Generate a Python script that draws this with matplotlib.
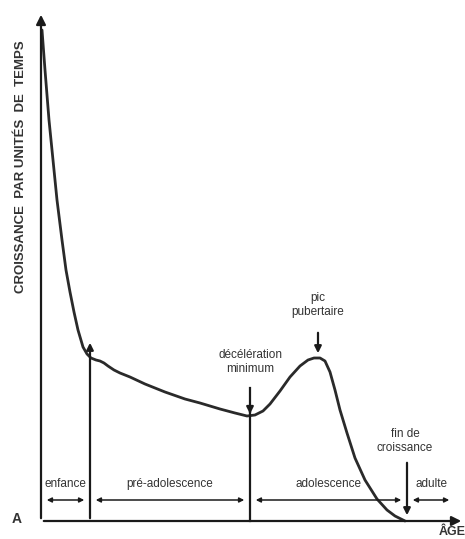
import matplotlib
matplotlib.use("Agg")
import matplotlib.pyplot as plt

plt.rcParams['font.family'] = ['Liberation Sans Narrow', 'Liberation Sans', 'DejaVu Sans']

# courbe de croissance (age, vitesse)
age = [1, 4, 8, 12, 16, 21, 25, 29, 33, 37, 42, 46, 50, 55, 59, 63, 67, 73, 79, 89,
       104, 124, 144, 159, 179, 194, 206, 214, 222, 229, 239, 249, 259, 267, 273,
       279, 284, 289, 294, 299, 306, 314, 324, 336, 346, 354, 364]
vitesse = [491, 451, 401, 361, 321, 281, 251, 229, 209, 191, 174, 167, 163, 161,
           160, 158, 155, 151, 148, 144, 137, 129, 122, 118, 112, 108, 105, 106,
           110, 117, 130, 144, 155, 161, 163, 163, 160, 149, 131, 111, 88, 63, 41,
           22, 11, 5, 0]

# limites des periodes
limites = [0, 49, 209, 366, 424]
periodes = ["enfance", "pré-adolescence", "adolescence", "adulte"]

fig = plt.figure(figsize=(4.65, 5.39), dpi=100)
ax = fig.add_axes([0, 0, 1, 1])
ax.set_xlim(-41, 424)
ax.set_ylim(-18, 521)
ax.axis("off")

lw = 1.6
k = "#1a1a1a"
# axes
ax.annotate("", xy=(0, 509), xytext=(0, 0),
            arrowprops=dict(arrowstyle="-|>", color=k, lw=lw, mutation_scale=14))
ax.annotate("", xy=(423, 0), xytext=(0, 0),
            arrowprops=dict(arrowstyle="-|>", color=k, lw=lw, mutation_scale=14))

ax.plot(age, vitesse, color="#2a2a2a", lw=2.0, solid_capstyle="round")

# lignes verticales
ax.annotate("", xy=(49, 181), xytext=(49, 0),
            arrowprops=dict(arrowstyle="-|>", color=k, lw=lw, mutation_scale=10))
ax.plot([209, 209], [0, 133], color=k, lw=lw)
ax.annotate("", xy=(209, 107), xytext=(209, 112),
            arrowprops=dict(arrowstyle="-|>", color=k, lw=lw, mutation_scale=10))
ax.annotate("", xy=(277, 165), xytext=(277, 191),
            arrowprops=dict(arrowstyle="-|>", color=k, lw=lw, mutation_scale=10))
ax.annotate("", xy=(366, 3), xytext=(366, 61),
            arrowprops=dict(arrowstyle="-|>", color=k, lw=lw, mutation_scale=10))

# fleches des periodes
for i, nom in enumerate(periodes):
    a, b = limites[i], limites[i + 1]
    if i == len(periodes) - 1:
        b = 414
    ax.annotate("", xy=(b - 3, 21), xytext=(a + 3, 21),
                arrowprops=dict(arrowstyle="<|-|>", color=k, lw=1.1, mutation_scale=7))
    ax.text((a + b) / 2, 37, nom, ha="center", va="center", fontsize=8.5, color="#333333")

ax.text(209, 159, "décélération\nminimum", ha="center", va="center", fontsize=8.5,
        color="#333333", linespacing=1.2)
ax.text(277, 216, "pic\npubertaire", ha="center", va="center", fontsize=8.5,
        color="#333333", linespacing=1.2)
ax.text(364, 80, "fin de\ncroissance", ha="center", va="center", fontsize=8.5,
        color="#333333", linespacing=1.2)

ax.text(-20, 354, "CROISSANCE  PAR UNITÉS  DE  TEMPS", rotation=90, ha="center",
        va="center", fontsize=9.5, fontweight="bold", color="#333333")
ax.text(-29, 2, "A", ha="left", va="center", fontsize=10, fontweight="bold", color="#333333")
ax.text(411, -11, "ÂGE", ha="center", va="center", fontsize=9, fontweight="bold", color="#333333")

fig.savefig("out.png", dpi=100)
